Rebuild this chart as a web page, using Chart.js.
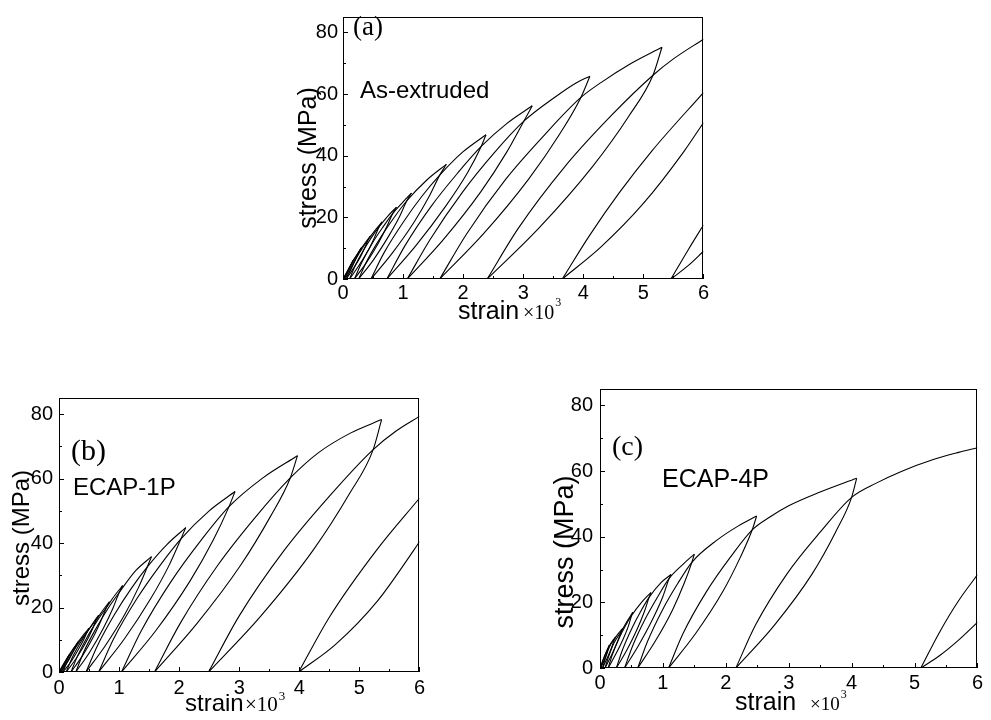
<!DOCTYPE html>
<html>
<head>
<meta charset="utf-8">
<script src="https://cdn.jsdelivr.net/npm/chart.js@4"></script>
<style>
  body { margin: 0; background: #fff; width: 991px; height: 720px; position: relative; overflow: hidden; }
  .panel { position: absolute; }
</style>
</head>
<body>
<div class="panel" style="left:283px;top:0px"><canvas id="chartA" width="428" height="324"></canvas></div>
<div class="panel" style="left:0px;top:380px"><canvas id="chartB" width="429" height="340"></canvas></div>
<div class="panel" style="left:540px;top:370px"><canvas id="chartC" width="446" height="348"></canvas></div>
<script>
// axis ticks (strain x10^3, stress MPa)
const strainTicks = [0, 1, 2, 3, 4, 5, 6];
const stressTicks = [0, 20, 40, 60, 80];

const panelTags = ["(a)", "(b)", "(c)"];
const panelNames = ["As-extruded", "ECAP-1P", "ECAP-4P"];

// (a) loading / reloading paths: residual strain -> crossing -> next peak
const asExtrudedLoad = [
  [[0,0],[0.06,2.1],[0.12,4.3],[0.18,6.3]],
  [[0.005,0],[0.05,1.6],[0.10,3.4],[0.16,5.7],[0.24,8.0],[0.31,10.2]],
  [[0.025,0],[0.08,2.3],[0.15,5.1],[0.22,7.5],[0.28,9.3],[0.38,12.0],[0.46,14.0]],
  [[0.055,0],[0.125,3.2],[0.225,7.0],[0.33,10.2],[0.42,12.8],[0.55,16.2],[0.65,18.5]],
  [[0.11,0],[0.20,4.2],[0.34,9.3],[0.475,13.5],[0.60,16.9],[0.75,20.5],[0.89,23.3]],
  [[0.19,0],[0.31,5.3],[0.49,11.7],[0.67,17.0],[0.83,21.3],[1.0,25.0],[1.14,27.9]],
  [[0.26,0],[0.41,6.3],[0.64,13.9],[0.86,20.2],[1.06,25.3],[1.4,32.2],[1.72,37.2]],
  [[0.465,0],[0.68,8.4],[1.005,18.5],[1.32,27.0],[1.61,33.7],[2.0,41.3],[2.38,46.8]],
  [[0.73,0],[1.03,10.75],[1.47,23.65],[1.91,34.4],[2.30,43.0],[2.73,50.5],[3.15,56.2]],
  [[1.07,0],[1.45,12.8],[1.99,28.2],[2.52,41.0],[3.01,51.2],[3.55,59.3],[3.88,63.6],[4.11,65.8]],
  [[1.61,0],[2.06,14.7],[2.71,32.4],[3.37,47.1],[3.96,58.9],[4.3,63.8],[4.8,70.0],[5.31,75.2]],
  [[2.40,0],[2.92,16.5],[3.69,36.4],[4.46,52.9],[5.16,66.1],[5.5,71.4],[6.0,77.8]],
  [[3.65,0],[4.1,14.0],[4.6,28.0],[5.14,41.5],[6.0,60.5]],
  [[5.46,0],[5.75,9.6],[6.0,17.5]]
];
// (a) unloading paths: peak -> residual strain
const asExtrudedUnload = [
  [[0.18,6.3],[0.16,5.7],[0.12,3.8],[0.07,1.8],[0.005,0]],
  [[0.31,10.2],[0.28,9.3],[0.24,7.5],[0.18,5.1],[0.11,2.3],[0.025,0]],
  [[0.46,14.0],[0.42,12.8],[0.365,10.2],[0.285,7.0],[0.165,3.2],[0.055,0]],
  [[0.65,18.5],[0.60,16.9],[0.525,13.5],[0.42,9.3],[0.26,4.2],[0.11,0]],
  [[0.89,23.3],[0.83,21.3],[0.73,17.0],[0.59,11.7],[0.39,5.3],[0.19,0]],
  [[1.14,27.9],[1.06,25.3],[0.94,20.2],[0.76,13.9],[0.51,6.3],[0.26,0]],
  [[1.72,37.2],[1.61,33.7],[1.44,27.0],[1.185,18.5],[0.82,8.4],[0.465,0]],
  [[2.38,46.8],[2.30,43.0],[2.07,34.4],[1.71,23.65],[1.21,10.75],[0.73,0]],
  [[3.15,56.2],[3.01,51.2],[2.72,41.0],[2.29,28.2],[1.67,12.8],[1.07,0]],
  [[4.11,65.8],[3.96,58.9],[3.61,47.1],[3.09,32.4],[2.34,14.7],[1.61,0]],
  [[5.31,75.2],[5.16,66.1],[4.76,52.9],[4.15,36.4],[3.26,16.5],[2.40,0]],
  [[6.0,50.7],[5.68,41.5],[5.0,24.5],[4.3,10.5],[3.65,0]],
  [[6.0,9.0],[5.75,4.4],[5.46,0]]
];

// (b) ECAP-1P
const ecap1Load = [
  [[0,0],[0.06,2.0],[0.12,3.9],[0.18,5.6]],
  [[0.01,0],[0.06,1.8],[0.12,3.7],[0.16,5.0],[0.25,7.5],[0.33,9.6]],
  [[0.035,0],[0.09,2.2],[0.17,5.0],[0.24,7.2],[0.30,8.8],[0.41,11.6],[0.50,13.6]],
  [[0.065,0],[0.136,3.1],[0.255,6.9],[0.365,10.0],[0.47,12.5],[0.58,15.6],[0.66,17.6]],
  [[0.12,0],[0.21,4.05],[0.35,8.9],[0.49,13.0],[0.62,16.2],[0.74,19.4],[0.84,21.8]],
  [[0.20,0],[0.31,5.0],[0.475,11.0],[0.64,16.0],[0.79,20.0],[0.93,23.8],[1.06,26.8]],
  [[0.28,0],[0.41,6.15],[0.616,13.5],[0.816,19.7],[1.0,24.6],[1.28,31.5],[1.54,35.8]],
  [[0.45,0],[0.64,8.15],[0.926,17.9],[1.21,26.1],[1.47,32.6],[1.80,39.6],[2.11,44.8]],
  [[0.66,0],[0.91,10.3],[1.295,22.7],[1.68,33.0],[2.03,41.3],[2.5,50.0],[2.93,56.0]],
  [[1.04,0],[1.37,12.8],[1.87,28.2],[2.37,41.0],[2.83,51.3],[3.4,60.3],[3.97,67.1]],
  [[1.59,0],[2.015,15.0],[2.643,33.1],[3.278,48.2],[3.85,60.2],[4.31,67.9],[4.85,74.1],[5.37,78.3]],
  [[2.49,0],[2.995,17.25],[3.757,37.95],[4.532,55.2],[5.23,69.0],[5.6,74.6],[6.0,79.3]],
  [[3.99,0],[4.5,17.0],[5.29,37.9],[6.0,53.9]]
];
const ecap1Unload = [
  [[0.18,5.6],[0.16,5.0],[0.11,3.0],[0.06,1.3],[0.01,0]],
  [[0.33,9.6],[0.30,8.8],[0.25,6.8],[0.17,4.0],[0.10,1.9],[0.035,0]],
  [[0.50,13.6],[0.47,12.5],[0.41,10.0],[0.32,6.9],[0.196,3.1],[0.065,0]],
  [[0.66,17.6],[0.62,16.2],[0.55,13.0],[0.44,8.9],[0.28,4.05],[0.12,0]],
  [[0.84,21.8],[0.79,20.0],[0.70,16.0],[0.575,11.0],[0.39,5.0],[0.20,0]],
  [[1.06,26.8],[1.0,24.6],[0.896,19.7],[0.736,13.5],[0.51,6.15],[0.28,0]],
  [[1.54,35.8],[1.47,32.6],[1.32,26.1],[1.096,17.9],[0.77,8.15],[0.45,0]],
  [[2.11,44.8],[2.03,41.3],[1.83,33.0],[1.525,22.7],[1.09,10.3],[0.66,0]],
  [[2.93,56.0],[2.83,51.3],[2.57,41.0],[2.18,28.2],[1.61,12.8],[1.04,0]],
  [[3.97,67.1],[3.85,60.2],[3.518,48.2],[3.023,33.1],[2.295,15.0],[1.59,0]],
  [[5.37,78.3],[5.23,69.0],[4.832,55.2],[4.237,37.95],[3.355,17.25],[2.49,0]],
  [[6.0,40.4],[5.91,37.9],[5.3,22.0],[4.6,8.5],[3.99,0]]
];

// (c) ECAP-4P
const ecap4Load = [
  [[0,0],[0.05,2.6],[0.10,4.9],[0.15,7.0]],
  [[0.01,0],[0.05,2.4],[0.10,4.8],[0.14,6.4],[0.20,8.3],[0.25,9.5]],
  [[0.04,0],[0.09,3.2],[0.15,6.5],[0.23,8.8],[0.30,10.7],[0.36,12.0]],
  [[0.08,0],[0.14,3.6],[0.22,7.5],[0.34,11.2],[0.44,14.5],[0.52,17.0]],
  [[0.13,0],[0.195,4.0],[0.295,8.7],[0.40,12.7],[0.50,15.9],[0.66,20.0],[0.81,23.0]],
  [[0.26,0],[0.355,5.4],[0.50,11.8],[0.646,17.2],[0.78,21.5],[0.97,26.0],[1.13,28.5]],
  [[0.39,0],[0.52,6.8],[0.72,15.0],[0.92,21.8],[1.10,27.3],[1.32,31.6],[1.50,34.7]],
  [[0.60,0],[0.755,8.05],[0.993,17.7],[1.238,25.8],[1.46,32.2],[1.87,39.1],[2.2,43.3],[2.49,46.3]],
  [[1.09,0],[1.32,10.5],[1.69,23.2],[2.07,33.7],[2.42,42.1],[2.7,46.0],[3.0,49.4],[3.5,53.6],[4.08,57.8]],
  [[2.16,0],[2.47,13.0],[2.97,28.6],[3.51,41.6],[4.0,52.0],[4.4,56.4],[4.79,59.9],[5.31,63.6],[5.7,65.7],[6.0,67.1]],
  [[5.10,0],[5.4,11.0],[5.7,20.5],[6.0,28.4]]
];
const ecap4Unload = [
  [[0.15,7.0],[0.14,6.4],[0.10,4.0],[0.05,1.6],[0.01,0]],
  [[0.25,9.5],[0.23,8.8],[0.18,6.0],[0.11,2.8],[0.04,0]],
  [[0.36,12.0],[0.34,11.2],[0.28,8.2],[0.19,4.2],[0.08,0]],
  [[0.52,17.0],[0.50,15.9],[0.45,12.7],[0.365,8.7],[0.245,4.0],[0.13,0]],
  [[0.81,23.0],[0.78,21.5],[0.706,17.2],[0.59,11.8],[0.425,5.4],[0.26,0]],
  [[1.13,28.5],[1.10,27.3],[1.0,21.8],[0.84,15.0],[0.61,6.8],[0.39,0]],
  [[1.50,34.7],[1.46,32.2],[1.338,25.8],[1.153,17.7],[0.875,8.05],[0.60,0]],
  [[2.49,46.3],[2.42,42.1],[2.23,33.7],[1.95,23.2],[1.52,10.5],[1.09,0]],
  [[4.08,57.8],[4.0,52.0],[3.75,41.6],[3.37,28.6],[2.77,13.0],[2.16,0]],
  [[6.0,13.9],[5.7,8.5],[5.4,3.8],[5.10,0]]
];

const SANS = "'Liberation Sans', Arial, sans-serif";
const SERIF = "'Liberation Serif', 'Times New Roman', serif";

// box, inward ticks and the texts of each panel
const framePlugin = {
  id: "frame",
  afterDraw(chart, args, o) {
    const { ctx, chartArea: a, scales: { x, y } } = chart;
    ctx.save();
    ctx.strokeStyle = "#000";
    ctx.lineWidth = 1;
    ctx.strokeRect(Math.round(a.left) + 0.5, Math.round(a.top) + 0.5,
      Math.round(a.right - a.left) - 1, Math.round(a.bottom - a.top) - 1);
    ctx.beginPath();
    strainTicks.forEach((v, i) => {
      const px = Math.round(x.getPixelForValue(v)) + 0.5;
      ctx.moveTo(px, a.bottom); ctx.lineTo(px, a.bottom - 5);
      if (i < strainTicks.length - 1) {
        const mx = Math.round(x.getPixelForValue((v + strainTicks[i + 1]) / 2)) + 0.5;
        ctx.moveTo(mx, a.bottom); ctx.lineTo(mx, a.bottom - 3);
      }
    });
    stressTicks.forEach(v => {
      const py = Math.round(y.getPixelForValue(v)) + 0.5;
      ctx.moveTo(a.left, py); ctx.lineTo(a.left + 5, py);
      const mv = v + 10;
      if (mv < y.max) {
        const my = Math.round(y.getPixelForValue(mv)) + 0.5;
        ctx.moveTo(a.left, my); ctx.lineTo(a.left + 3, my);
      }
    });
    ctx.stroke();

    ctx.fillStyle = "#000";
    ctx.textBaseline = "alphabetic";
    ctx.textAlign = "left";
    ctx.font = o.tagSize + "px " + SERIF;
    ctx.fillText(o.tag, o.tagX, o.tagY);
    ctx.font = o.nameSize + "px " + SANS;
    ctx.fillText(o.name, o.nameX, o.nameY);

    // x title: strain x10^3
    ctx.font = o.xs + "px " + SANS;
    ctx.fillText("strain", o.xx, o.xy);
    ctx.font = o.ms + "px " + SERIF;
    ctx.fillText("\u00d710", o.mx, o.xy);
    const supX = o.mx + ctx.measureText("\u00d710").width + 1;
    ctx.font = o.ps + "px " + SERIF;
    ctx.fillText("3", supX, o.py);

    // y title
    ctx.translate(o.yx, o.yy);
    ctx.rotate(-Math.PI / 2);
    ctx.textAlign = "center";
    ctx.textBaseline = "middle";
    ctx.font = o.ys + "px " + SANS;
    ctx.fillText("stress (MPa)", 0, 0);
    ctx.restore();
  }
};

function makePanel(id, loads, unloads, p) {
  const datasets = loads.concat(unloads).map(c => ({
    data: c.map(([sx, sy]) => ({ x: sx, y: sy })),
    showLine: true,
    pointRadius: 0,
    borderColor: "#000",
    borderWidth: 1.1,
    cubicInterpolationMode: "monotone",
    fill: false
  }));
  new Chart(document.getElementById(id), {
    type: "scatter",
    data: { datasets },
    plugins: [framePlugin],
    options: {
      responsive: false,
      animation: false,
      devicePixelRatio: 1,
      layout: { padding: { top: p.padTop, right: 2, left: 0, bottom: 0 } },
      plugins: { legend: { display: false }, tooltip: { enabled: false }, frame: p.text },
      scales: {
        x: {
          type: "linear", min: 0, max: 6,
          afterBuildTicks: s => { s.ticks = strainTicks.map(v => ({ value: v })); },
          afterFit: s => { s.height = p.xh; },
          grid: { display: false, drawTicks: false },
          border: { display: false },
          ticks: { color: "#000", font: { family: SANS, size: p.tick }, padding: p.xpad, maxRotation: 0, autoSkip: false }
        },
        y: {
          type: "linear", min: 0, max: 85,
          afterBuildTicks: s => { s.ticks = stressTicks.map(v => ({ value: v })); },
          afterFit: s => { s.width = p.yw; },
          grid: { display: false, drawTicks: false },
          border: { display: false },
          ticks: { color: "#000", font: { family: SANS, size: p.tick }, padding: p.ypad, autoSkip: false }
        }
      }
    }
  });
}

makePanel("chartA", asExtrudedLoad, asExtrudedUnload, {
  padTop: 5, xh: 45, yw: 60, tick: 20, xpad: 2, ypad: 5,
  text: { tag: panelTags[0], tagSize: 27, tagX: 70, tagY: 35,
          name: panelNames[0], nameSize: 24, nameX: 77, nameY: 98,
          xs: 25, xx: 175, xy: 319, ms: 20, mx: 240, ps: 12, py: 306,
          ys: 25, yx: 26, yy: 158 }
});
makePanel("chartB", ecap1Load, ecap1Unload, {
  padTop: 18, xh: 48, yw: 59, tick: 20, xpad: 4, ypad: 6,
  text: { tag: panelTags[1], tagSize: 30, tagX: 71, tagY: 80,
          name: panelNames[1], nameSize: 24, nameX: 73, nameY: 115,
          xs: 24, xx: 185, xy: 331, ms: 21, mx: 245, ps: 13, py: 320,
          ys: 24, yx: 22, yy: 158 }
});
makePanel("chartC", ecap4Load, ecap4Unload, {
  padTop: 13, xh: 50, yw: 60, tick: 20, xpad: 3, ypad: 7,
  text: { tag: panelTags[2], tagSize: 28, tagX: 72, tagY: 85,
          name: panelNames[2], nameSize: 25, nameX: 122, nameY: 117,
          xs: 25, xx: 195, xy: 340, ms: 19, mx: 270, ps: 12, py: 328,
          ys: 27, yx: 26, yy: 182 }
});
</script>
</body>
</html>
